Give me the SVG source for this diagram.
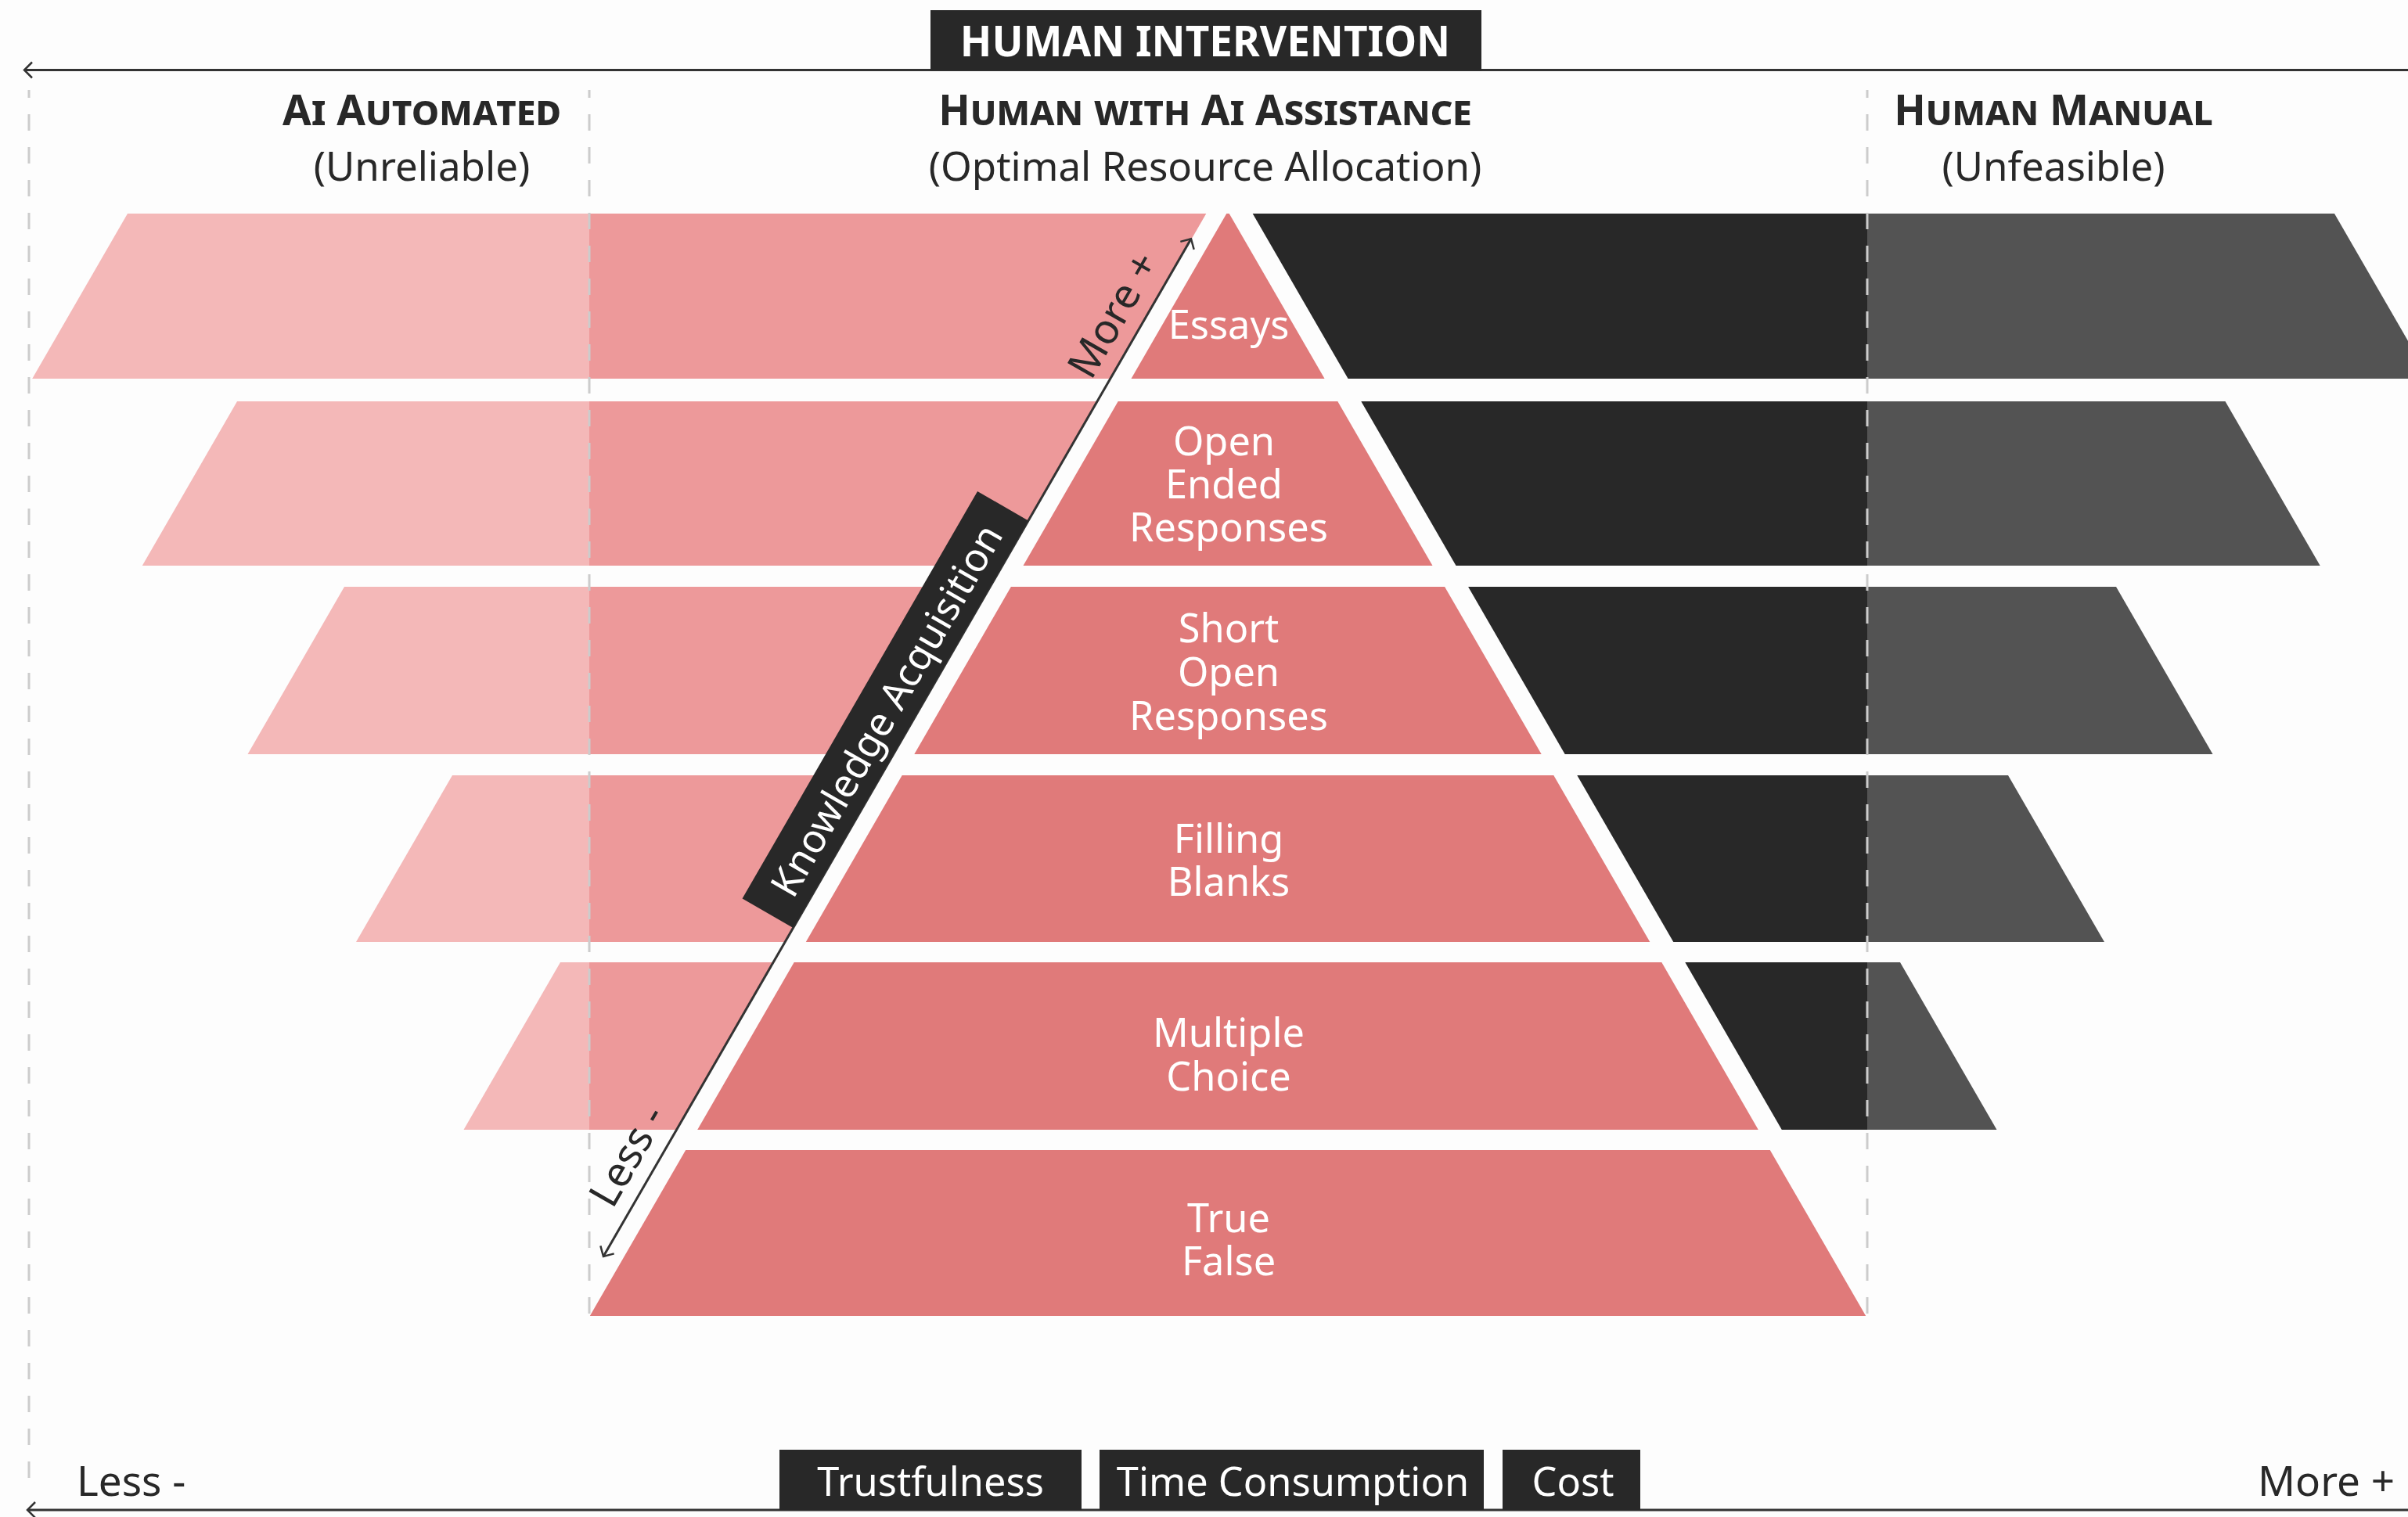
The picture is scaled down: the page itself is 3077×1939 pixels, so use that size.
<svg xmlns="http://www.w3.org/2000/svg" width="3077" height="1939" viewBox="0 0 3077 1939">
<style>
.light{fill:#F4B8B8}
.med{fill:#ED999A}
.pyr{fill:#E07A7A}
.dark{fill:#282828}
.gray{fill:#535353}
.lbl{font-family:"Noto Sans","Open Sans","Liberation Sans",sans-serif;font-size:50.5px;fill:#FFFFFF;text-anchor:middle}
.hd{font-family:"Noto Sans","Open Sans","Liberation Sans",sans-serif;font-size:53px;font-weight:bold;font-variant:small-caps;fill:#282828;text-anchor:middle}
.sub{font-family:"Noto Sans","Open Sans","Liberation Sans",sans-serif;font-size:51px;fill:#282828;text-anchor:middle}
.txt{font-family:"Noto Sans","Open Sans","Liberation Sans",sans-serif;font-size:53px;fill:#282828}
.wtxt{font-family:"Noto Sans","Open Sans","Liberation Sans",sans-serif;font-size:50.5px;fill:#FFFFFF;text-anchor:middle}
.dash{stroke:#CCCCCC;stroke-width:3;stroke-dasharray:21 21;stroke-dashoffset:11;fill:none}
.axis{stroke:#333333;stroke-width:3;fill:none}
</style>
<defs>
<marker id="chev" markerUnits="userSpaceOnUse" viewBox="-14 -14 18 28" refX="0" refY="0" markerWidth="18" markerHeight="28" orient="auto-start-reverse">
<path d="M-10,-10 L0,0 L-10,10" fill="none" stroke="#333333" stroke-width="2.5"/>
</marker>
</defs>
<rect width="3077" height="1939" fill="#FDFDFD"/>

<g id="tier-essays">
<polygon class="light" points="163,273 753,273 753,484 41.2,484"/>
<polygon class="med" points="753,273 1541.3,273 1419.5,484 753,484"/>
<polygon class="pyr" points="1567.3,273 1570.7,273 1692.6,484 1445.5,484"/>
<polygon class="dark" points="1600.7,273 2386,273 2386,484 1722.6,484"/>
<polygon class="gray" points="2386,273 2983,273 3104.8,484 2386,484"/>
<text class="lbl" x="1570" y="433">Essays</text>
</g>

<g id="tier-open-ended">
<polygon class="light" points="303,513 753,513 753,723 181.8,723"/>
<polygon class="med" points="753,513 1402.7,513 1281.5,723 753,723"/>
<polygon class="pyr" points="1428.7,513 1709.3,513 1830.5,723 1307.5,723"/>
<polygon class="dark" points="1739.3,513 2386,513 2386,723 1860.5,723"/>
<polygon class="gray" points="2386,513 2843.5,513 2964.7,723 2386,723"/>
<text class="lbl"><tspan x="1564" y="582">Open</tspan><tspan x="1564" y="637">Ended</tspan><tspan x="1570" y="692">Responses</tspan></text>
</g>

<g id="tier-short-open">
<polygon class="light" points="440,750 753,750 753,964 316.5,964"/>
<polygon class="med" points="753,750 1265.9,750 1142.3,964 753,964"/>
<polygon class="pyr" points="1291.9,750 1846.1,750 1969.7,964 1168.3,964"/>
<polygon class="dark" points="1876.1,750 2386,750 2386,964 1999.7,964"/>
<polygon class="gray" points="2386,750 2704,750 2827.5,964 2386,964"/>
<text class="lbl"><tspan x="1570" y="821">Short</tspan><tspan x="1570" y="877">Open</tspan><tspan x="1570" y="933">Responses</tspan></text>
</g>

<g id="tier-filling-blanks">
<polygon class="light" points="578,991 753,991 753,1204 455,1204"/>
<polygon class="med" points="753,991 1126.7,991 1003.8,1204 753,1204"/>
<polygon class="pyr" points="1152.7,991 1985.3,991 2108.3,1204 1029.8,1204"/>
<polygon class="dark" points="2015.3,991 2386,991 2386,1204 2138.3,1204"/>
<polygon class="gray" points="2386,991 2566,991 2689,1204 2386,1204"/>
<text class="lbl"><tspan x="1570" y="1090">Filling</tspan><tspan x="1570" y="1145">Blanks</tspan></text>
</g>

<g id="tier-multiple-choice">
<polygon class="light" points="716,1230 753,1230 753,1444 592.5,1444"/>
<polygon class="med" points="753,1230 988.7,1230 865.2,1444 753,1444"/>
<polygon class="pyr" points="1014.7,1230 2123.3,1230 2246.8,1444 891.2,1444"/>
<polygon class="dark" points="2153.3,1230 2386,1230 2386,1444 2276.8,1444"/>
<polygon class="gray" points="2386,1230 2428,1230 2551.5,1444 2386,1444"/>
<text class="lbl"><tspan x="1570" y="1338">Multiple</tspan><tspan x="1570" y="1394">Choice</tspan></text>
</g>

<g id="tier-true-false">
<polygon class="pyr" points="876.2,1470 2261.8,1470 2384.2,1682 753.8,1682"/>
<text class="lbl"><tspan x="1570" y="1575">True</tspan><tspan x="1570" y="1630">False</tspan></text>
</g>

<g id="guides">
<line class="dash" x1="37" y1="115" x2="37" y2="1905"/>
<line class="dash" x1="753" y1="115" x2="753" y2="1682"/>
<line class="dash" x1="2386" y1="115" x2="2386" y2="1682"/>
</g>

<g id="headers">
<text class="hd" x="539" y="160">Ai Automated</text>
<text class="sub" x="539" y="231">(Unreliable)</text>
<text class="hd" x="1540" y="160">Human with Ai Assistance</text>
<text class="sub" x="1540" y="231">(Optimal Resource Allocation)</text>
<text class="hd" x="2624" y="160">Human Manual</text>
<text class="sub" x="2624" y="231">(Unfeasible)</text>
</g>

<g id="connectors">
<line class="axis" x1="3077" y1="89.5" x2="31" y2="89.5" marker-end="url(#chev)"/>
<line class="axis" x1="3077" y1="1930" x2="35" y2="1930" marker-end="url(#chev)"/>
<g transform="translate(1013.5,1186) rotate(-60)">
<line class="axis" x1="-485" y1="0" x2="1017" y2="0" marker-start="url(#chev)" marker-end="url(#chev)"/>
</g>
</g>

<g id="knowledge-acquisition" transform="translate(1013.5,1186) rotate(-60)">
<rect class="dark" x="0" y="-75" width="601" height="75"/>
<text class="wtxt" x="300.5" y="-37.5" dominant-baseline="central">Knowledge Acquisition</text>
<text class="txt" x="883" y="-40" text-anchor="middle" dominant-baseline="central">More +</text>
<text class="txt" x="-358" y="-40" text-anchor="middle" dominant-baseline="central">Less -</text>
</g>

<g id="title">
<rect class="dark" x="1189" y="13" width="704" height="77"/>
<text x="1540" y="72" style="font-family:'Noto Sans','Open Sans','Liberation Sans',sans-serif;font-size:53px;font-weight:bold;fill:#FFFFFF;text-anchor:middle">HUMAN INTERVENTION</text>
</g>

<g id="factors">
<rect class="dark" x="996" y="1853" width="386" height="77"/>
<text class="wtxt" x="1189" y="1912">Trustfulness</text>
<rect class="dark" x="1405" y="1853" width="491" height="77"/>
<text class="wtxt" x="1652" y="1912">Time Consumption</text>
<rect class="dark" x="1920" y="1853" width="176" height="77"/>
<text class="wtxt" x="2010" y="1912">Cost</text>
<text class="txt" x="98" y="1912">Less -</text>
<text class="txt" x="3060" y="1912" text-anchor="end">More +</text>
</g>
</svg>
